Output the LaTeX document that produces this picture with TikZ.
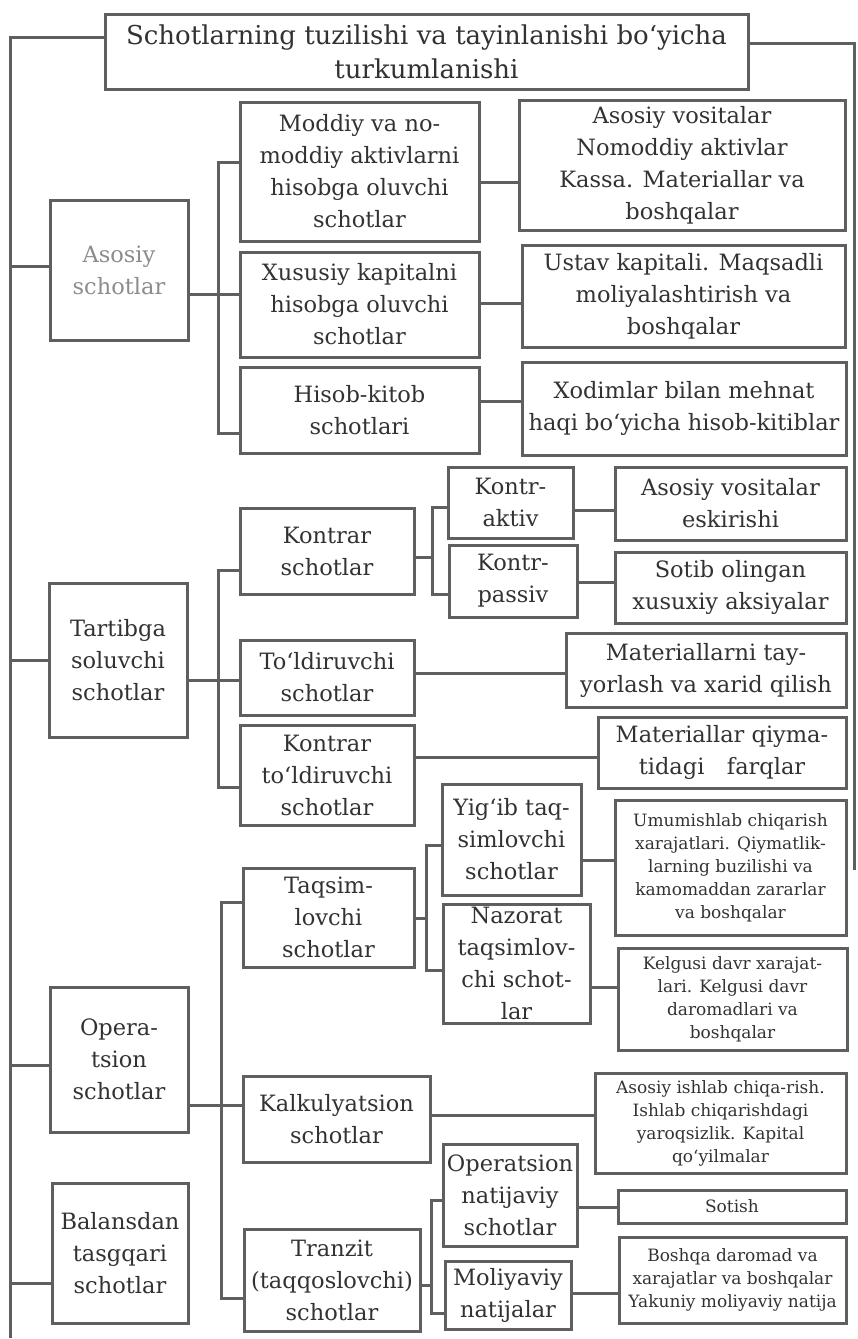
\documentclass[tikz,border=0pt]{standalone}
\usepackage{fontspec}
\setmainfont{DejaVu Serif}
\usetikzlibrary{calc}
\definecolor{linegray}{RGB}{95,95,95}
\definecolor{textgray}{RGB}{50,50,50}

\begin{document}
\begin{tikzpicture}[x=1pt, y=-1pt,
  box/.style={draw=linegray, line width=3pt, align=center, inner sep=0pt,
    text=textgray, font=\fontsize{22.5}{32}\selectfont},
  smalltext/.style={font=\fontsize{17}{23}\selectfont},
  wh/.style 2 args={minimum width=#1pt, minimum height=#2pt},
  conn/.style={draw=linegray, line width=3pt}]
  \useasboundingbox (0,0) rectangle (857,1339);

  \node[box, wh={643}{75}, font=\fontsize{26}{34}\selectfont] (title) at (426.5,51.5)
    {Schotlarning tuzilishi va tayinlanishi bo‘yicha\\turkumlanishi};

  % birinchi ustun
  \node[box, wh={138}{140}, text=black!45] (asosiy)  at (119,270)    {Asosiy\\schotlar};
  \node[box, wh={138}{154}] (tartib)  at (118,660)    {Tartibga\\soluvchi\\schotlar};
  \node[box, wh={138}{145}] (operats) at (119,1059.5) {Opera-\\tsion\\schotlar};
  \node[box, wh={136}{140}] (balans)  at (120,1253)   {Balansdan\\tasgqari\\schotlar};

  % ikkinchi ustun
  \node[box, wh={239}{139}] (moddiy)  at (359.5,171.5) {Moddiy va no-\\moddiy aktivlarni\\hisobga oluvchi\\schotlar};
  \node[box, wh={239}{105}] (xususiy) at (359.5,304.5) {Xususiy kapitalni\\hisobga oluvchi\\schotlar};
  \node[box, wh={239}{86}]  (hisob)   at (359.5,410)   {Hisob-kitob\\schotlari};
  \node[box, wh={174}{86}]  (kontrar) at (327,551)     {Kontrar\\schotlar};
  \node[box, wh={174}{75}]  (toldir)  at (327,677.5)   {To‘ldiruvchi\\schotlar};
  \node[box, wh={174}{100}] (ktoldir) at (327,775)     {Kontrar\\to‘ldiruvchi\\schotlar};
  \node[box, wh={171}{99}]  (taqsim)  at (328.5,917.5) {Taqsim-\\lovchi\\schotlar};
  \node[box, wh={187}{86}]  (kalk)    at (336.5,1119)  {Kalkulyatsion\\schotlar};
  \node[box, wh={176}{102}] (tranzit) at (332,1280)    {Tranzit\\(taqqoslovchi)\\schotlar};

  % uchinchi ustun
  \node[box, wh={125}{71}]  (kaktiv)  at (510.5,502.5) {Kontr-\\aktiv};
  \node[box, wh={128}{72}]  (kpassiv) at (513,581)     {Kontr-\\passiv};
  \node[box, wh={139}{111}] (yigib)   at (511.5,839.5) {Yig‘ib taq-\\simlovchi\\schotlar};
  \node[box, wh={147}{119}] (nazorat) at (516.5,963.5) {Nazorat\\taqsimlov-\\chi schot-\\lar};
  \node[box, wh={134}{102}] (opnat)   at (510,1195)    {Operatsion\\natijaviy\\schotlar};
  \node[box, wh={126}{68}]  (moliy)   at (508,1295)    {Moliyaviy\\natijalar};

  % o'ng ustun
  \node[box, wh={326}{130}] (rasosiy) at (682,165)     {Asosiy vositalar\\Nomoddiy aktivlar\\Kassa. Materiallar va\\boshqalar};
  \node[box, wh={323}{102}] (rustav)  at (683.5,296)   {Ustav kapitali. Maqsadli\\moliyalashtirish va\\boshqalar};
  \node[box, wh={324}{93}]  (rxodim)  at (684,408.5)   {Xodimlar bilan mehnat\\haqi bo‘yicha hisob-kitiblar};
  \node[box, wh={231}{73}]  (reskir)  at (730.5,503.5) {Asosiy vositalar\\eskirishi};
  \node[box, wh={231}{71}]  (rsotib)  at (730.5,587.5) {Sotib olingan\\xusuxiy aksiyalar};
  \node[box, wh={280}{74}]  (rtayyor) at (706,670)     {Materiallarni tay-\\yorlash va xarid qilish};
  \node[box, wh={248}{71}]  (rfarq)   at (722,752.5)   {Materiallar qiyma-\\tidagi\quad farqlar};
  \node[box, smalltext, wh={231}{135}] (rumum)   at (730.5,867.5) {Umumishlab chiqarish\\xarajatlari. Qiymatlik-\\larning buzilishi va\\kamomaddan zararlar\\va boshqalar};
  \node[box, smalltext, wh={229}{102}] (rkelg)   at (732.5,999)   {Kelgusi davr xarajat-\\lari. Kelgusi davr\\daromadlari va\\boshqalar};
  \node[box, smalltext, wh={251}{100}] (rishlab) at (720.5,1123)  {Asosiy ishlab chiqa-rish.\\Ishlab chiqarishdagi\\yaroqsizlik. Kapital\\qo‘yilmalar};
  \node[box, smalltext, wh={228}{33}]  (rsotish) at (732,1206.5)  {Sotish};
  \node[box, smalltext, wh={227}{86}]  (rboshqa) at (732.5,1280)  {Boshqa daromad va\\xarajatlar va boshqalar\\Yakuniy moliyaviy natija};

  % asosiy chiziqlar
  \draw[conn] (title.west |- 0,37) -- (10,37) -- (10,1338);
  \draw[conn] (title.east |- 0,43) -- (854,43) -- (854,870);
  \draw[conn] (10,266)  -- (asosiy.west |- 0,266);
  \draw[conn] (10,660)  -- (tartib.west |- 0,660);
  \draw[conn] (10,1065) -- (operats.west |- 0,1065);
  \draw[conn] (10,1283) -- (balans.west |- 0,1283);

  % Asosiy schotlar
  \draw[conn] (asosiy.east |- 0,294) -- (xususiy.west |- 0,294);
  \draw[conn] (moddiy.west |- 0,162) -- (218,162) -- (218,433) -- (hisob.west |- 0,433);
  \draw[conn] (moddiy.east |- 0,182)  -- (rasosiy.west |- 0,182);
  \draw[conn] (xususiy.east |- 0,303) -- (rustav.west |- 0,303);
  \draw[conn] (hisob.east |- 0,401)   -- (rxodim.west |- 0,401);

  % Tartibga soluvchi
  \draw[conn] (tartib.east |- 0,680) -- (toldir.west |- 0,680);
  \draw[conn] (kontrar.west |- 0,570) -- (218,570) -- (218,787) -- (ktoldir.west |- 0,787);
  \draw[conn] (kontrar.east |- 0,557) -- (432,557);
  \draw[conn] (kaktiv.west |- 0,507) -- (432,507) -- (432,594) -- (kpassiv.west |- 0,594);
  \draw[conn] (kaktiv.east |- 0,510)  -- (reskir.west |- 0,510);
  \draw[conn] (kpassiv.east |- 0,582) -- (rsotib.west |- 0,582);
  \draw[conn] (toldir.east |- 0,673)  -- (rtayyor.west |- 0,673);
  \draw[conn] (ktoldir.east |- 0,757) -- (rfarq.west |- 0,757);

  % Operatsion
  \draw[conn] (operats.east |- 0,1105) -- (kalk.west |- 0,1105);
  \draw[conn] (taqsim.west |- 0,902) -- (221,902) -- (221,1298) -- (tranzit.west |- 0,1298);
  \draw[conn] (taqsim.east |- 0,918) -- (426,918);
  \draw[conn] (yigib.west |- 0,845) -- (426,845) -- (426,970) -- (nazorat.west |- 0,970);
  \draw[conn] (tranzit.east |- 0,1285) -- (431,1285);
  \draw[conn] (opnat.west |- 0,1200) -- (431,1200) -- (431,1313) -- (moliy.west |- 0,1313);
  \draw[conn] (yigib.east |- 0,860)    -- (rumum.west |- 0,860);
  \draw[conn] (nazorat.east |- 0,987)  -- (rkelg.west |- 0,987);
  \draw[conn] (kalk.east |- 0,1115)    -- (rishlab.west |- 0,1115);
  \draw[conn] (opnat.east |- 0,1207)   -- (rsotish.west |- 0,1207);
  \draw[conn] (moliy.east |- 0,1293)   -- (rboshqa.west |- 0,1293);
\end{tikzpicture}
\end{document}
